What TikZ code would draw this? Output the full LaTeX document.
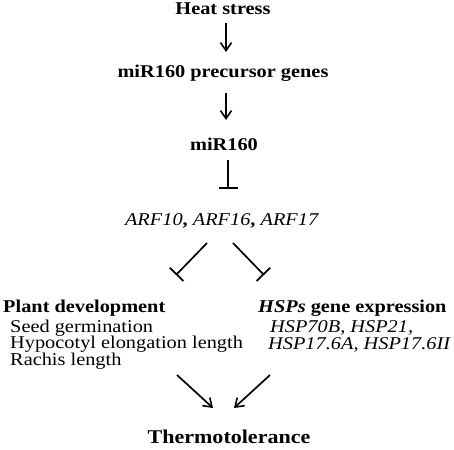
\documentclass[tikz,border=0pt]{standalone}
\usepackage{fontspec}
\setmainfont[FakeStretch=1.13]{Liberation Serif}
\usetikzlibrary{arrows.meta}
\begin{document}
\begin{tikzpicture}[x=1pt,y=-1pt,
  lbl/.style={inner sep=0pt,font=\fontsize{18}{18}\selectfont},
  ctr/.style={lbl,anchor=base},
  lft/.style={lbl,anchor=base west},
  conn/.style={line width=1.7pt},
  arr/.style={conn,-{Straight Barb[length=8pt,width=11pt,line width=1.6pt]}},
  inh/.style={conn,-{Bar[width=19pt,line width=1.8pt]}}]
\useasboundingbox (0,0) rectangle (454,449);
\node[ctr] (heat) at (223,15) {\textbf{Heat stress}};
\node[ctr] (prec) at (223,78) {\textbf{miR160 precursor genes}};
\node[ctr] (mir) at (224,150) {\textbf{miR160}};
\node[ctr] (arf) at (222,225) {\textit{ARF10}\textbf{,} \textit{ARF16}\textbf{,} \textit{ARF17}};
\node[lft] (dev) at (3,312) {\textbf{Plant development}};
\node[lft] (seed) at (10,332) {Seed germination};
\node[lft] (hypo) at (10,348.5) {Hypocotyl elongation length};
\node[lft] (rach) at (10,365) {Rachis length};
\node[lft] (hsps) at (258,312) {\textbf{\textit{HSPs} gene expression}};
\node[lft] (hspa) at (270,332.5) {\textit{HSP70B, HSP21,}};
\node[lft] (hspb) at (268,349) {\textit{HSP17.6A, HSP17.6II}};
\node[ctr,font=\fontsize{19.5}{19.5}\selectfont] (therm) at (229,443) {\textbf{Thermotolerance}};
\draw[arr] (heat.base) ++(3,8) -- ++(0,29);
\draw[arr] (prec.base) ++(3,15) -- ++(0,27);
\draw[inh] (mir.base) ++(4,10) -- ++(0,29);
\draw[inh] (arf.base) ++(-15,18) -- ++(-31,32);
\draw[inh] (arf.base) ++(11,18) -- ++(31,32);
\draw[arr] (therm.base) ++(-52,-68) -- ++(36,33);
\draw[arr] (therm.base) ++(41,-68) -- ++(-36,33);
\end{tikzpicture}
\end{document}
